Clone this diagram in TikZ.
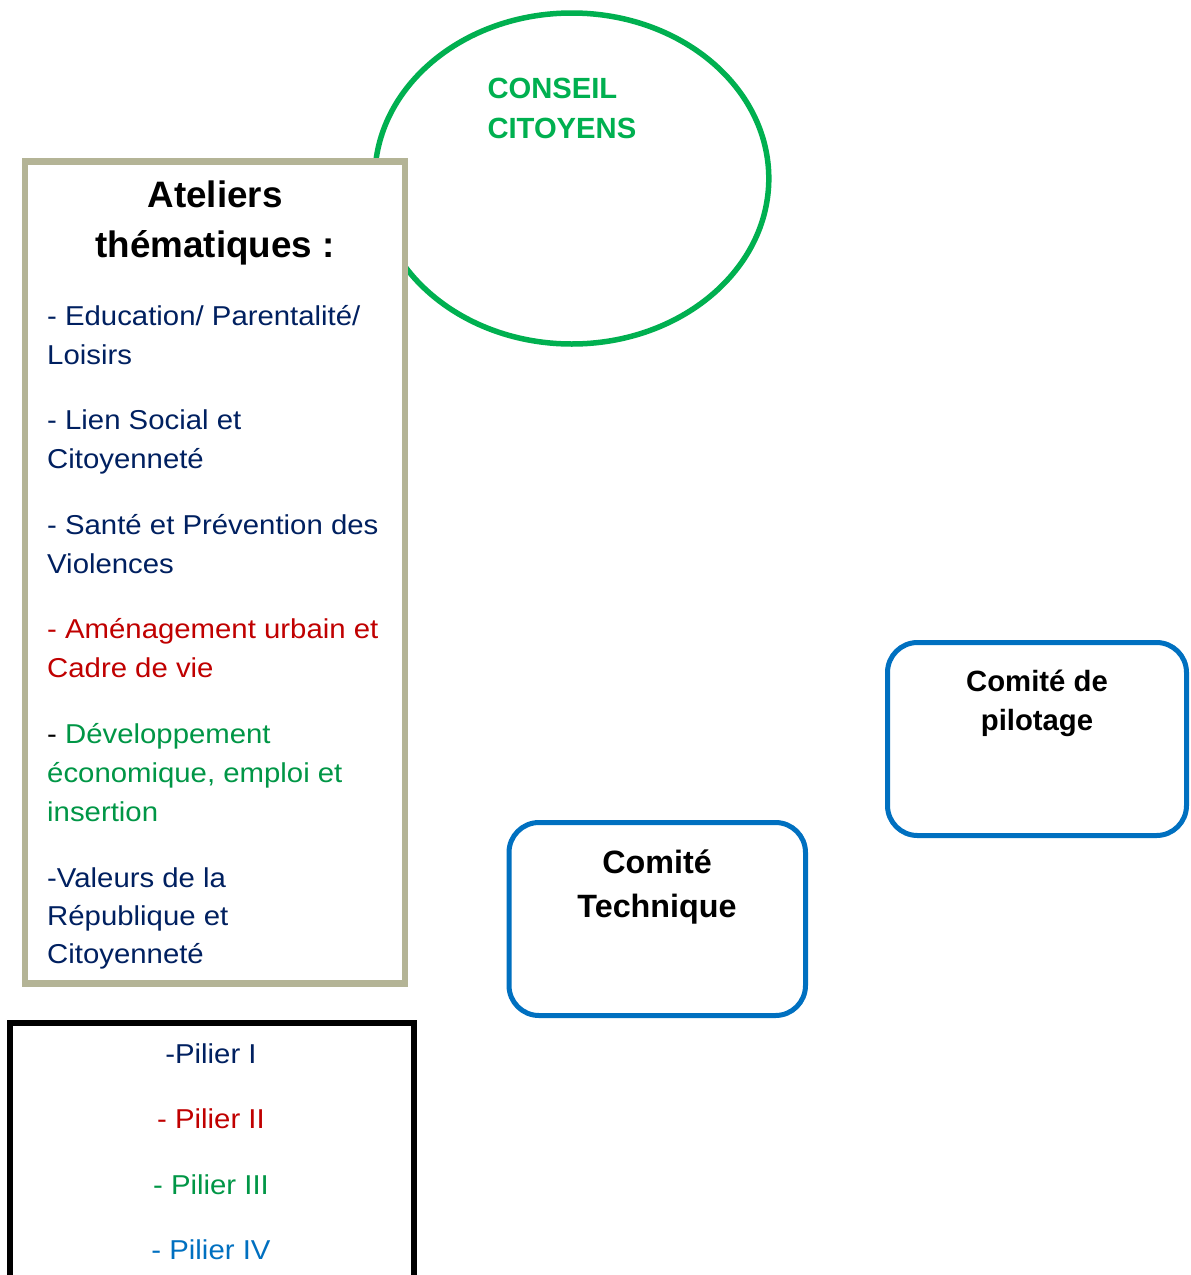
\documentclass[tikz,border=0pt]{standalone}
\usepackage{fontspec}
\setmainfont{Liberation Sans}
\newfontfamily\regf[FakeStretch=1.075]{Liberation Sans}
\usetikzlibrary{shapes.geometric}
\definecolor{navy}{RGB}{0,32,96}
\definecolor{darkred}{RGB}{192,0,0}
\definecolor{txtgreen}{RGB}{0,150,70}
\definecolor{brightgreen}{RGB}{0,176,80}
\definecolor{midblue}{RGB}{0,112,192}
\definecolor{tan}{RGB}{180,180,150}
\tikzset{
  listtext/.style={anchor=base west, inner sep=0pt, font=\regf\fontsize{27.3}{39}\selectfont},
  pilier/.style={anchor=base, inner sep=0pt, font=\regf\fontsize{27.3}{39}\selectfont},
  headtext/.style={anchor=base, inner sep=0pt, font=\bfseries\fontsize{36.8}{50}\selectfont},
  conseiltext/.style={anchor=base west, inner sep=0pt, text=brightgreen, font=\bfseries\fontsize{29.2}{39}\selectfont},
  comitebox/.style={draw=midblue, line width=5pt, rounded corners=30pt, fill=white, inner sep=0pt},
  comitetext/.style={anchor=base, inner sep=0pt, font=\bfseries\fontsize{29.3}{40}\selectfont},
}
\begin{document}
\begin{tikzpicture}[x=1pt,y=-1pt]
\useasboundingbox[fill=white] (0,0) rectangle (1191,1275);
% Conseil citoyens ellipse
\node[ellipse, draw=brightgreen, line width=5.5pt, minimum width=394pt, minimum height=331pt, inner sep=0pt] (conseil) at (571.8,178.5) {};
\node[conseiltext] (conseilA) at (487.3,98) {CONSEIL};
\node[conseiltext] (conseilB) at (487.3,138) {CITOYENS};
% Ateliers box
\node[draw=tan, line width=6.5pt, fill=white, minimum width=380pt, minimum height=822pt, inner sep=0pt] (ateliers) at (215,572.5) {};
\node[headtext] (h1) at (215,207) {Ateliers};
\node[headtext] (h2) at (215,257) {thématiques :};
\node[listtext, text=navy] (l1) at (47,325) {- Education/ Parentalité/};
\node[listtext, text=navy] (l2) at (47,364) {Loisirs};
\node[listtext, text=navy] (l3) at (47,429) {- Lien Social et};
\node[listtext, text=navy] (l4) at (47,468) {Citoyenneté};
\node[listtext, text=navy] (l5) at (47,534) {- Santé et Prévention des};
\node[listtext, text=navy] (l6) at (47,573) {Violences};
\node[listtext, text=darkred] (l7) at (47,638) {- Aménagement urbain et};
\node[listtext, text=darkred] (l8) at (47,677) {Cadre de vie};
\node[listtext, text=black] (l9) at (47,743) {- \textcolor{txtgreen}{Développement}};
\node[listtext, text=txtgreen] (l10) at (47,782) {économique, emploi et};
\node[listtext, text=txtgreen] (l11) at (47,821) {insertion};
\node[listtext, text=navy] (l12) at (47,887) {-Valeurs de la};
\node[listtext, text=navy] (l13) at (47,925) {République et};
\node[listtext, text=navy] (l14) at (47,963) {Citoyenneté};
% Piliers box (open at bottom, cut by page edge)
\coordinate (pbl) at (9.7,1280);
\coordinate (ptl) at (9.7,1023);
\coordinate (ptr) at (413.7,1023);
\coordinate (pbr) at (413.7,1280);
\draw[line width=6pt] (pbl) -- (ptl) -- (ptr) -- (pbr);
\node[pilier, text=navy] (p1) at (211,1063) {-Pilier I};
\node[pilier, text=darkred] (p2) at (211,1128.5) {- Pilier II};
\node[pilier, text=txtgreen] (p3) at (211,1194) {- Pilier III};
\node[pilier, text=midblue] (p4) at (211,1259.5) {- Pilier IV};
% Comites
\node[comitebox, minimum width=299pt, minimum height=193pt] (pilotage) at (1037,739) {};
\node[comitetext] (pil1) at (1037,691) {Comité de};
\node[comitetext] (pil2) at (1037,730) {pilotage};
\node[comitebox, minimum width=296.5pt, minimum height=193pt] (technique) at (657.25,919) {};
\node[comitetext, font=\bfseries\fontsize{32.3}{44}\selectfont] (tec1) at (657,873) {Comité};
\node[comitetext, font=\bfseries\fontsize{32.3}{44}\selectfont] (tec2) at (657,917) {Technique};
\end{tikzpicture}
\end{document}
